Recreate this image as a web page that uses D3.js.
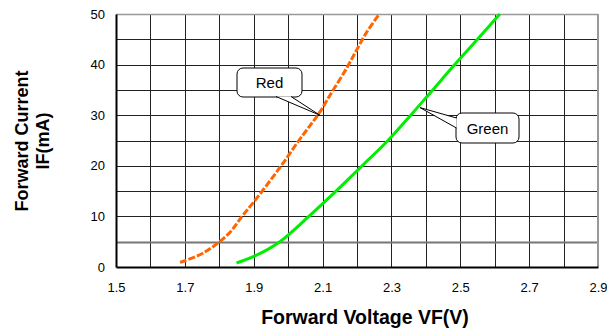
<!DOCTYPE html>
<html>
<head>
<meta charset="utf-8">
<script src="https://cdn.jsdelivr.net/npm/d3@7"></script>
<style>
  body { margin: 0; background: #fff; }
  svg { font-family: "Liberation Sans", Arial, sans-serif; }
</style>
</head>
<body>
<svg id="chart" width="607" height="332"></svg>
<script>
// forward voltage (V) vs forward current (mA)
var redVolt = [1.686, 1.754, 1.826, 1.865, 1.904, 1.947, 1.986, 2.029, 2.063, 2.092, 2.122, 2.170, 2.199, 2.228, 2.265];
var redCurr = [0.9, 2.8, 6.5, 9.9, 13.2, 17.0, 20.6, 24.8, 27.9, 30.6, 34.0, 39.3, 42.9, 46.4, 50];
var greenVolt = [1.85, 1.904, 1.976, 2.06, 2.139, 2.215, 2.29, 2.356, 2.42, 2.484, 2.55, 2.615];
var greenCurr = [0.8, 2.2, 5.0, 10, 15, 20, 25, 30, 35, 40, 45, 50];
var xTicks = [1.5, 1.7, 1.9, 2.1, 2.3, 2.5, 2.7, 2.9];
var yTicks = [0, 10, 20, 30, 40, 50];

var margin = { top: 14, right: 9, bottom: 65, left: 116 };
var width = 607, height = 332;

var svg = d3.select('#chart');

var x = d3.scaleLinear().domain([1.5, 2.9]).range([margin.left, width - margin.right]);
var y = d3.scaleLinear().domain([0, 50]).range([height - margin.bottom, margin.top]);

// grid
var grid = svg.append('g');
d3.range(1.5, 2.95, 0.1).forEach(function (v) {
  grid.append('line')
    .attr('x1', Math.round(x(v)) + 0.5).attr('x2', Math.round(x(v)) + 0.5)
    .attr('y1', y(50)).attr('y2', y(0))
    .attr('stroke', '#222').attr('stroke-width', 1);
});
d3.range(5, 51, 5).forEach(function (v) {
  grid.append('line')
    .attr('x1', x(1.5)).attr('x2', x(2.9))
    .attr('y1', Math.round(y(v)) + 0.5).attr('y2', Math.round(y(v)) + 0.5)
    .attr('stroke', v === 5 ? '#777' : '#222')
    .attr('stroke-width', v === 5 ? 2 : 1);
});
// frame
svg.append('line').attr('x1', x(1.5)).attr('x2', x(2.9)).attr('y1', y(50) + 0.5).attr('y2', y(50) + 0.5)
  .attr('stroke', '#999').attr('stroke-width', 1.5);
svg.append('line').attr('x1', x(2.9)).attr('x2', x(2.9)).attr('y1', y(50)).attr('y2', y(0))
  .attr('stroke', '#999').attr('stroke-width', 2);

// axes
var xAxis = svg.append('g')
  .attr('transform', 'translate(0,' + y(0) + ')')
  .call(d3.axisBottom(x).tickValues(xTicks).tickSize(0).tickPadding(16).tickFormat(d3.format('.1f')));
xAxis.select('.domain').attr('stroke', '#000').attr('stroke-width', 2);
xAxis.selectAll('text').attr('font-size', 13).attr('fill', '#000')
  .attr('font-family', '"Liberation Sans", Arial, sans-serif');

var yAxis = svg.append('g')
  .attr('transform', 'translate(' + x(1.5) + ',0)')
  .call(d3.axisLeft(y).tickValues(yTicks).tickSize(0).tickPadding(11));
yAxis.select('.domain').attr('stroke', '#000').attr('stroke-width', 2);
yAxis.selectAll('text').attr('font-size', 13).attr('fill', '#000')
  .attr('font-family', '"Liberation Sans", Arial, sans-serif');

// curves
var line = d3.line()
  .x(function (d) { return x(d[0]); })
  .y(function (d) { return y(d[1]); })
  .curve(d3.curveCatmullRom.alpha(0.5));

svg.append('path')
  .datum(d3.zip(redVolt, redCurr))
  .attr('d', line)
  .attr('fill', 'none')
  .attr('stroke', '#ff6600')
  .attr('stroke-width', 3)
  .attr('stroke-dasharray', '7,2');

svg.append('path')
  .datum(d3.zip(greenVolt, greenCurr))
  .attr('d', line)
  .attr('fill', 'none')
  .attr('stroke', '#00ee00')
  .attr('stroke-width', 3);

// callouts
function callout(label, bx, by, bw, bh, tip, base1, base2) {
  var g = svg.append('g');
  g.append('rect')
    .attr('x', bx).attr('y', by).attr('width', bw).attr('height', bh)
    .attr('rx', 6).attr('ry', 6)
    .attr('fill', '#fff').attr('stroke', '#000').attr('stroke-width', 1);
  g.append('path')
    .attr('d', 'M' + base1 + 'L' + tip + 'L' + base2)
    .attr('fill', '#fff').attr('stroke', '#000').attr('stroke-width', 1);
  g.append('text')
    .attr('x', bx + bw / 2).attr('y', by + bh / 2 + 5.5)
    .attr('text-anchor', 'middle')
    .attr('font-size', 15)
    .text(label);
}
callout('Red', 237, 68, 65, 29, [x(2.092), y(30)], [276, 96.5], [291, 96.5]);
callout('Green', 456, 113, 63, 30, [x(2.383), y(31.5)], [456.5, 118], [456.5, 128]);

// axis titles
svg.append('text')
  .attr('transform', 'translate(28,141) rotate(-90)')
  .attr('text-anchor', 'middle')
  .attr('font-size', 18).attr('font-weight', 'bold')
  .text('Forward Current');
svg.append('text')
  .attr('transform', 'translate(49,141) rotate(-90)')
  .attr('text-anchor', 'middle')
  .attr('font-size', 18).attr('font-weight', 'bold')
  .text('IF(mA)');
svg.append('text')
  .attr('x', 365).attr('y', 324)
  .attr('text-anchor', 'middle')
  .attr('font-size', 19.5).attr('font-weight', 'bold')
  .text('Forward Voltage VF(V)');
</script>
</body>
</html>
